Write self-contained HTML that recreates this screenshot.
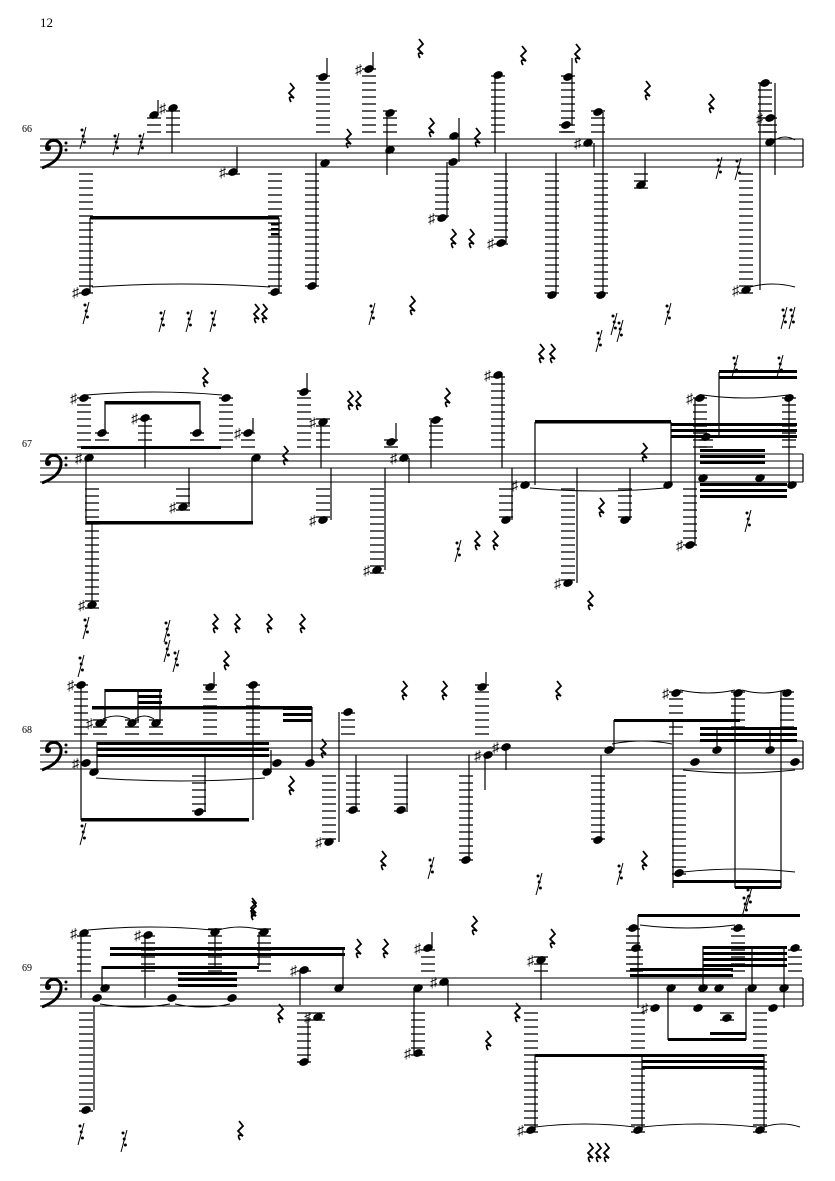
<!DOCTYPE html>
<html><head><meta charset="utf-8"><style>
html,body{margin:0;padding:0;background:#fff;}
svg{display:block;}
text{font-family:"Liberation Serif",serif;}
</style></head><body>
<svg id="s" width="835" height="1181" viewBox="0 0 835 1181" xmlns="http://www.w3.org/2000/svg">
<text x="40" y="27" font-size="13">12</text>
<text x="22" y="132" font-size="10">66</text>
<text x="22" y="447" font-size="10">67</text>
<text x="22" y="733" font-size="10">68</text>
<text x="22" y="971" font-size="10">69</text>
</svg>
<script>
var S=document.getElementById('s'),NS='http://www.w3.org/2000/svg';
function el(t,a){var e=document.createElementNS(NS,t);for(var k in a)e.setAttribute(k,a[k]);S.appendChild(e);return e;}
function ln(x1,y1,x2,y2,w){el('line',{x1:x1,y1:y1,x2:x2,y2:y2,stroke:'#000','stroke-width':w||1.1});}
var T;
function staff(t){T=t;for(var i=0;i<5;i++)ln(40,t+7*i,803,t+7*i,1);ln(803,t,803,t+28,1.2);
 el('path',{d:'M47,'+(t+9)+' C45,'+(t)+' 60,'+(t-2)+' 61,'+(t+8)+' C62,'+(t+18)+' 53,'+(t+25)+' 42,'+(t+29),fill:'none',stroke:'#000','stroke-width':3});
 el('circle',{cx:48,cy:t+9,r:3});el('circle',{cx:66,cy:t+4,r:1.5});el('circle',{cx:66,cy:t+11,r:1.5});}
function n(x,y,s){var B=T+28,k;
 if(y<T-4){for(k=T-7;k>=y-3;k-=7)ln(x-7,k,x+7,k,1.3);}
 if(y>B+4){for(k=B+7;k<=y+3;k+=7)ln(x-7,k,x+7,k,1.3);}
 el('ellipse',{cx:x,cy:y,rx:5,ry:3.6,transform:'rotate(-25 '+x+' '+y+')'});
 if(s){var t=el('text',{x:x-14,y:y+5,'font-size':14,'font-family':'DejaVu Sans,sans-serif'});t.textContent='\u266F';}}
function st(x,a,b){ln(x,a,x,b,1.2);}
function bm(x1,x2,y,h){el('rect',{x:x1,y:y,width:x2-x1,height:h||3.5});}
function q(x,y){el('path',{d:'M'+(x-1)+','+(y-9)+' L'+(x+3)+','+(y-4)+' L'+(x-2)+','+(y+1)+' L'+(x+3)+','+(y+6)+' Q'+(x-4)+','+(y+3)+' '+(x)+','+(y+10),fill:'none',stroke:'#000','stroke-width':1.8});}
function r(x,y){ln(x+3,y-10,x-3,y+12,1);for(var i=0;i<3;i++)el('circle',{cx:x-1+i*1.2,cy:y-7+i*6,r:1.5});}
function tie(x1,x2,y,up){var d=up?-6:6;el('path',{d:'M'+x1+','+y+' Q'+((x1+x2)/2)+','+(y+d)+' '+x2+','+y,fill:'none',stroke:'#000','stroke-width':1});}

/* ---------- system 1 ---------- */
staff(139);
n(154,115);n(173,108,1);st(172,108,153);st(158,100,115);
n(233,172,1);st(237,147,172);
n(86,292,1);st(90,218,292);n(275,292);st(279,218,292);bm(90,279,216,3.5);bm(271,279,223,2.5);bm(271,279,228,2.5);bm(271,279,233,2.5);tie(92,270,287,1);
n(312,286);st(316,153,286);n(325,163);
n(323,77);st(327,58,77);n(369,69,1);st(373,52,69);
n(390,113);n(390,150);st(387,113,175);
n(454,136);n(453,162);st(459,118,162);n(442,218,1);st(447,162,218);
n(498,75);st(495,75,153);n(501,243,1);st(506,153,243);
n(552,295);st(556,153,295);
n(568,77);n(566,125);st(572,58,125);
n(588,143,1);st(594,143,167);
n(598,112);n(601,295);st(603,112,295);
n(641,185);st(645,153,185);
n(765,83);n(770,118,1);n(770,142);n(746,290,1);st(760,83,290);st(775,83,175);tie(750,795,287,1);tie(775,795,140,1);
[[291,92],[348,138],[420,48],[431,127],[477,137],[453,238],[471,238],[523,55],[577,53],[647,90],[711,103],[412,305],[256,313],[264,313]].forEach(function(p){q(p[0],p[1]);});
[[83,137],[116,143],[141,143],[719,167],[738,168],[86,312],[162,320],[189,320],[213,320],[372,313],[614,323],[784,317],[792,317],[668,313],[620,330]].forEach(function(p){r(p[0],p[1]);});

/* ---------- system 2 ---------- */
staff(454);
n(89,458,1);st(86,458,523);bm(86,253,521,3.5);n(92,605,1);st(92,523,605);
n(84,398,1);n(102,433);n(145,418,1);n(197,433);bm(105,200,401,3.5);st(105,401,433);st(200,401,433);bm(81,221,446,3);st(145,418,468);tie(86,222,395,1);
n(226,398);n(248,433,1);st(253,418,433);
n(256,458);st(252,458,523);
n(183,507,1);st(189,468,507);
n(304,392);st(307,373,392);
n(323,422,1);st(321,422,468);n(323,520,1);st(331,468,520);
n(391,442);st(396,423,442);n(404,458,1);st(409,458,483);n(377,570,1);st(385,468,570);
n(436,420);st(431,420,468);n(498,375,1);st(502,375,468);
n(525,485,1);st(535,422,485);bm(535,671,420,3.5);n(506,520);st(512,468,520);tie(530,665,488,0);
n(568,583,1);st(577,468,583);n(625,520);st(630,468,520);
n(668,485);st(671,422,485);
bm(671,797,423,3);bm(671,797,429,3);bm(671,797,435,3);bm(700,765,449,3);bm(700,765,455,3);bm(700,765,461,3);
bm(700,787,483,3);bm(700,787,489,3);bm(700,787,495,3);
n(700,398,1);n(789,398);n(706,437);n(703,478);n(760,478);n(792,485);n(690,545,1);st(695,398,545);st(789,398,485);st(719,372,437);
bm(719,797,370,3);bm(719,797,376,3);tie(703,788,395,0);
[[205,377],[285,455],[350,400],[358,400],[447,397],[541,353],[552,353],[601,507],[644,452],[590,600],[477,540],[495,540],[215,623],[237,623],[269,623],[302,623]].forEach(function(p){q(p[0],p[1]);});
[[458,550],[86,627],[167,630],[599,340],[748,520],[735,365],[780,365]].forEach(function(p){r(p[0],p[1]);});

/* ---------- system 3 ---------- */
staff(741);
n(81,685,1);n(100,723,1);n(132,723);n(156,723);bm(105,162,689,3);bm(138,162,695,3);bm(138,162,701,3);bm(92,312,706,3.5);
st(105,689,723);st(138,689,723);st(160,689,723);tie(103,130,719,1);tie(135,154,719,1);
n(86,763,1);n(94,772);bm(97,269,742,3);bm(97,269,748,3);bm(97,269,754,3);st(81,685,820);bm(81,249,818,3.5);st(97,742,772);tie(96,265,778,0);
n(199,812);st(205,755,812);
n(210,687);st(214,672,687);n(253,685);st(253,685,820);
n(267,772);n(277,763);n(310,763);bm(283,312,707,3);bm(283,312,713,3);bm(283,312,719,3);st(271,750,772);st(312,707,763);
n(348,712);n(329,842,1);st(339,712,842);
n(353,810);st(356,755,810);n(401,810);st(407,755,810);
n(482,687);st(486,672,687);
n(488,755,1);st(485,755,790);n(506,747,1);st(506,747,770);
n(466,860);st(469,755,860);
n(598,840);st(601,755,840);
n(609,750);st(614,720,750);bm(614,740,719,3);tie(612,672,744,1);
n(676,693,1);n(738,693);n(787,693);tie(680,735,690,0);tie(742,785,690,0);
n(695,762);n(717,750);n(770,750);n(795,762);bm(700,797,727,3);bm(700,797,733,3);bm(700,797,739,3);st(717,727,750);st(770,727,750);
n(679,873);st(673,720,888);bm(673,781,880,3);bm(735,781,886,3);st(735,693,888);st(781,693,888);tie(683,795,770,0);tie(683,795,872,1);
[[291,785],[323,748],[404,690],[444,690],[558,690],[226,660],[383,860],[644,860],[253,907]].forEach(function(p){q(p[0],p[1]);});
[[83,833],[167,650],[431,867],[539,883],[620,873],[749,897],[81,665],[176,660]].forEach(function(p){r(p[0],p[1]);});

/* ---------- system 4 ---------- */
staff(978);
n(84,933,1);st(81,933,998);n(148,935,1);n(215,932);n(264,932);tie(88,212,930,1);tie(218,262,930,1);
bm(110,345,947,3);bm(110,345,953,3);bm(102,259,966,3);bm(178,237,972,3);bm(178,237,978,3);bm(178,237,984,3);
n(105,988);n(97,998);n(172,998);n(232,998);st(102,966,988);st(145,935,998);st(215,932,966);st(259,932,966);tie(100,170,1004,0);tie(175,230,1004,0);
n(86,1110);st(94,1006,1110);
n(304,970,1);st(300,970,1005);n(318,1017,1);n(304,1062);st(308,1017,1062);
n(339,988);st(343,948,988);
n(428,948,1);st(432,932,948);n(444,982,1);st(448,982,1006);
n(418,988);st(414,988,1053);n(418,1053,1);
n(541,960,1);st(541,960,1000);
n(531,1130,1);n(638,1130);n(760,1130);st(535,1055,1130);st(642,1055,1130);st(764,1055,1130);
bm(535,764,1054,3);bm(642,764,1060,3);bm(642,764,1066,3);tie(535,635,1127,1);tie(642,757,1127,1);tie(764,800,1127,1);
bm(638,800,914,3);n(633,928);n(636,948);n(738,928);n(795,948);st(638,915,1008);tie(640,735,925,0);
bm(630,733,968,3);bm(630,733,974,3);bm(703,787,946,3);bm(703,787,952,3);bm(703,787,958,3);bm(703,787,964,3);
n(671,988);n(703,988);n(719,988);n(752,988);n(784,988);n(655,1008,1);n(698,1008);n(773,1008);n(727,1018);
st(668,988,1040);st(746,988,1040);st(703,946,988);st(752,946,988);st(784,946,1008);bm(668,746,1038,3);bm(710,746,1032,3);
[[280,1013],[358,948],[385,948],[253,910],[474,925],[552,938],[488,1040],[517,1012],[240,1130],[590,1152],[598,1152],[606,1152]].forEach(function(p){q(p[0],p[1]);});
[[81,1133],[124,1140],[745,905]].forEach(function(p){r(p[0],p[1]);});
</script>
</body></html>
